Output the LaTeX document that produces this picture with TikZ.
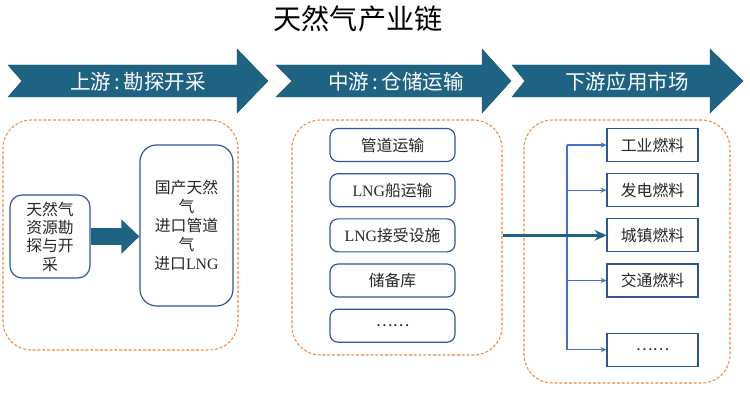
\documentclass[tikz,border=0pt]{standalone}
\usepackage{fontspec}
\setmainfont{Liberation Serif}
\newfontfamily\cjk{Noto Sans CJK SC}
\usepackage{tikz}
\usetikzlibrary{arrows.meta,positioning}
\definecolor{chainblue}{HTML}{1F6383}
\definecolor{boxblue}{HTML}{2F5597}
\definecolor{linkblue}{HTML}{4472C4}
\definecolor{dashorange}{HTML}{F08A3C}
\tikzstyle{stageshape} = [fill=chainblue, draw=chainblue!80!black, line width=0.4pt]
\tikzstyle{stagetext} = [text=white, font=\cjk\fontsize{17.5}{20}\selectfont]
\tikzstyle{dashgroup} = [draw=dashorange, line width=0.9pt, dash pattern=on 2.5pt off 1.6pt, rounded corners=0.85cm]
\tikzstyle{chainbox} = [draw=boxblue, line width=1pt, text=black!85, align=center, inner sep=0pt, font=\cjk\fontsize{13.5}{15.6}\selectfont]
\tikzstyle{midbox} = [chainbox, rounded corners=0.24cm, minimum width=3.75cm, minimum height=0.99cm]
\tikzstyle{endbox} = [chainbox, minimum width=2.73cm, minimum height=0.99cm]
\tikzstyle{branchline} = [draw=linkblue, line width=0.9pt, -{Stealth[length=5pt,width=4.5pt]}]
\tikzstyle{flowline} = [draw=chainblue, line width=2.5pt, -{Stealth[length=10pt,width=9pt]}]

\begin{document}
\begin{tikzpicture}[x=0.03cm, y=-0.03cm]
	\useasboundingbox (0,0) rectangle (750,400);

	\node[font=\cjk\fontsize{24}{28}\selectfont] (title) at (358,19) {天然气产业链};

	% stage arrows
	\foreach \xl/\xn/\xb/\xt/\xc/\name/\txt in {8/22/237/268/138/upst/{上游\,:\,勘探开采}, 276/292/482/511/396/midst/{中游\,:\,仓储运输}, 512/525/710/743/627/downst/{下游应用市场}}{
		\fill[stageshape] (\xl,65) -- (\xb,65) -- (\xb,49) -- (\xt,81) -- (\xb,113) -- (\xb,97) -- (\xl,97) -- (\xn,81) -- cycle;
		\node[stagetext] (\name) at (\xc,82) {\txt};
	}

	% groups
	\node[dashgroup, minimum width=7.05cm, minimum height=6.9cm] (upgroup) at (120.5,235) {};
	\node[dashgroup, minimum width=6.3cm, minimum height=7.05cm] (midgroup) at (397,237.5) {};
	\node[dashgroup, minimum width=6.18cm, minimum height=7.89cm] (downgroup) at (627,251.5) {};

	% upstream
	\node[chainbox, rounded corners=0.36cm, minimum width=2.4cm, minimum height=2.49cm] (explore) at (50,236.5) {天然气\\资源勘\\探与开\\采};
	\node[chainbox, rounded corners=0.5cm, minimum width=2.79cm, minimum height=4.83cm, font=\cjk\fontsize{13.5}{16.2}\selectfont] (supply) at (186.5,225.5) {国产天然\\气\\进口管道\\气\\进口\textrm{LNG}};
	\draw[draw=chainblue, line width=14pt, -{Triangle[length=0.54cm,width=1cm]}] (explore.east) -- (explore.east -| supply.west);

	% midstream
	\node[midbox] (pipe) at (392.5,145) {管道运输};
	\node[midbox, below=0.33cm of pipe] (ship) {\textrm{LNG}船运输};
	\node[midbox, below=0.33cm of ship] (terminal) {\textrm{LNG}接受设施};
	\node[midbox, below=0.33cm of terminal] (storage) {储备库};
	\node[midbox, below=0.33cm of storage] (midmore) {……};

	% downstream
	\node[endbox] (ind) at (652.5,145) {工业燃料};
	\node[endbox, below=0.33cm of ind] (pow) {发电燃料};
	\node[endbox, below=0.33cm of pow] (city) {城镇燃料};
	\node[endbox, below=0.33cm of city] (trf) {交通燃料};
	\node[endbox, below=1.05cm of trf] (endmore) {……};

	\coordinate (trunk) at (567,145);
	\draw[draw=linkblue, line width=0.9pt] (trunk |- ind.west) -- (trunk |- endmore.west);
	\foreach \n in {ind,pow,city,trf,endmore}
		\draw[branchline] (trunk |- \n.west) -- (\n.west);

	\draw[flowline] (city.west -| midgroup.east) -- (city.west);

\end{tikzpicture}
\end{document}
